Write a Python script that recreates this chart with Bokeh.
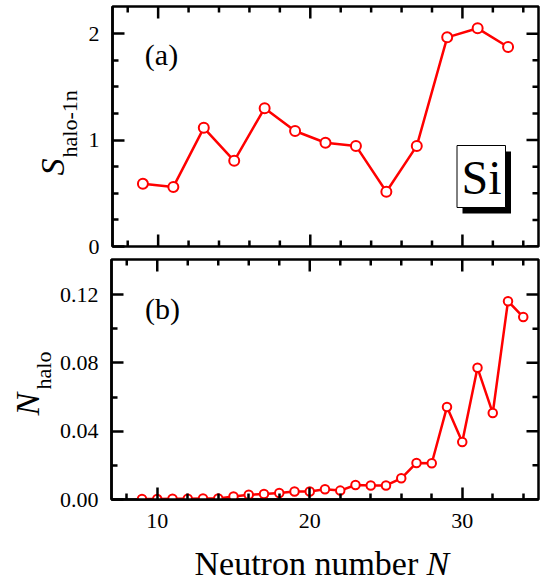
import numpy as np
from bokeh.plotting import figure
from bokeh.models import (FixedTicker, LinearAxis, Label, BoxAnnotation, Range1d,
                          NumeralTickFormatter, ColumnDataSource)
from bokeh.layouts import column, row
from bokeh.embed import file_html
from bokeh.resources import INLINE

# ---- data ----
n_top = [9, 11, 13, 15, 17, 19, 21, 23, 25, 27, 29, 31, 33]
s_halo_1n = [0.59, 0.56, 1.115, 0.805, 1.30, 1.085, 0.975, 0.945, 0.515, 0.945, 1.965, 2.05, 1.875]

n_bot = list(range(9, 35))
n_halo = [0.0003, 0.0003, 0.0005, 0.0004, 0.0006, 0.0006, 0.0018, 0.0028, 0.0032, 0.0038,
          0.0047, 0.0047, 0.0060, 0.0052, 0.0085, 0.0082, 0.0082, 0.0124, 0.0214, 0.0212,
          0.0542, 0.0337, 0.0771, 0.0506, 0.1161, 0.1068]

x_major = [10, 20, 30]
x_minor = [8, 12, 14, 16, 18, 22, 24, 26, 28, 32, 34]
top_y_major = [0, 1, 2]
top_y_minor = [0.25, 0.5, 0.75, 1.25, 1.5, 1.75]
bot_y_major = [0, 0.04, 0.08, 0.12]
bot_y_minor = [0.02, 0.06, 0.10]

X_RANGE = (7, 35)
TOP_Y_RANGE = (0, 2.255)
BOT_Y_RANGE = (0, 0.1405)

FONT = "Liberation Serif"
RED = "#ff0000"
TICK_W = 2.5
MAJ = 12
MIN = 6


def style_axis(ax, standoff):
    ax.axis_line_width = 2.5
    ax.axis_line_color = "black"
    ax.major_tick_in = MAJ
    ax.major_tick_out = 0
    ax.minor_tick_in = MIN
    ax.minor_tick_out = 0
    ax.major_tick_line_width = TICK_W
    ax.minor_tick_line_width = TICK_W
    ax.major_tick_line_color = "black"
    ax.minor_tick_line_color = "black"
    ax.major_label_text_font = FONT
    ax.major_label_text_color = "black"
    ax.major_label_text_font_size = "22px"
    ax.major_label_standoff = standoff


def mirror_ticks(p, yr, ymaj, ymin, bottom_too):
    # top edge (and bottom edge when there is no bottom axis)
    for ticks, ln in ((x_major, MAJ), (x_minor, MIN)):
        p.ray(x=ticks, y=[yr[1]] * len(ticks), length=ln, length_units="screen",
              angle=-np.pi / 2, line_color="black", line_width=TICK_W)
        if bottom_too:
            p.ray(x=ticks, y=[yr[0]] * len(ticks), length=ln, length_units="screen",
                  angle=np.pi / 2, line_color="black", line_width=TICK_W)
    # right edge
    for ticks, ln in ((ymaj, MAJ), (ymin, MIN)):
        p.ray(x=[X_RANGE[1]] * len(ticks), y=ticks, length=ln, length_units="screen",
              angle=np.pi, line_color="black", line_width=TICK_W)


def make_fig(width, height, yr, ymaj, ymin, bleft, btop, bbot, show_x, yfmt=None):
    p = figure(width=width, height=height, x_range=Range1d(*X_RANGE), y_range=Range1d(*yr),
               output_backend="svg", toolbar_location=None,
               x_axis_location=None, y_axis_location=None,
               min_border_left=bleft, min_border_right=11,
               min_border_top=btop, min_border_bottom=bbot)
    p.grid.visible = False
    p.outline_line_color = "black"
    p.outline_line_width = 2.5
    yax = LinearAxis(ticker=FixedTicker(ticks=ymaj, minor_ticks=ymin))
    if yfmt is not None:
        yax.formatter = yfmt
    style_axis(yax, 13)
    p.add_layout(yax, "left")
    if show_x:
        xax = LinearAxis(ticker=FixedTicker(ticks=x_major, minor_ticks=x_minor))
        style_axis(xax, 14)
        p.add_layout(xax, "below")
    mirror_ticks(p, yr, ymaj, ymin, not show_x)
    return p


def text_fig(width, height):
    f = figure(width=width, height=height, x_range=Range1d(0, 1), y_range=Range1d(0, 1),
               output_backend="svg", toolbar_location=None,
               x_axis_location=None, y_axis_location=None,
               min_border=0, min_border_left=0, min_border_right=0,
               min_border_top=0, min_border_bottom=0)
    f.grid.visible = False
    f.outline_line_color = None
    return f


def lab(**kw):
    base = dict(x_units="canvas", y_units="canvas", text_font=FONT, text_color="black",
                text_baseline="middle")
    base.update(kw)
    return Label(**base)


# ---- top row ----
LW1 = 85
lab1 = text_fig(LW1, 258)
lab1.add_layout(lab(x=51.5, y=175, text="S", angle=np.pi / 2, text_font_style="italic",
                    text_font_size="34px", text_align="left"))
lab1.add_layout(lab(x=68.6, y=157, text="halo-1n", angle=np.pi / 2,
                    text_font_size="22px", text_align="left"))

p1 = make_fig(549 - LW1, 258, TOP_Y_RANGE, top_y_major, top_y_minor, 111 - LW1, 6, 12, False)
src1 = ColumnDataSource(dict(n=n_top, s=s_halo_1n))
p1.line("n", "s", source=src1, line_color=RED, line_width=2.5)
p1.scatter("n", "s", source=src1, size=10, marker="circle", line_color=RED,
           line_width=2, fill_color="white")
p1.add_layout(lab(x=161 - LW1, y=54, text="(a)", text_font_size="30px", text_align="center"))

# Si box with shadow
p1.add_layout(BoxAnnotation(left=462 - LW1, right=510.5 - LW1, top=151, bottom=213,
                            left_units="canvas", right_units="canvas",
                            top_units="canvas", bottom_units="canvas",
                            fill_color="black", fill_alpha=1, line_color="black", line_width=0))
p1.add_layout(BoxAnnotation(left=456.5 - LW1, right=505 - LW1, top=145, bottom=207,
                            left_units="canvas", right_units="canvas",
                            top_units="canvas", bottom_units="canvas",
                            fill_color="white", fill_alpha=1, line_color="black", line_width=1,
                            line_alpha=1))
p1.add_layout(lab(x=481 - LW1, y=177, text="Si", text_font_size="48px", text_align="center"))

# ---- bottom row ----
LW2 = 55
lab2 = text_fig(LW2, 282)
lab2.add_layout(lab(x=26.5, y=157, text="N", angle=np.pi / 2, text_font_style="italic",
                    text_font_size="34px", text_align="left"))
lab2.add_layout(lab(x=42.6, y=131, text="halo", angle=np.pi / 2,
                    text_font_size="22px", text_align="left"))

p2 = make_fig(549 - LW2, 282, BOT_Y_RANGE, bot_y_major, bot_y_minor, 111 - LW2, 1, 41, True,
              yfmt=NumeralTickFormatter(format="0.00"))
src2 = ColumnDataSource(dict(n=n_bot, v=n_halo))
p2.line("n", "v", source=src2, line_color=RED, line_width=2.5)
p2.scatter("n", "v", source=src2, size=8.5, marker="circle", line_color=RED,
           line_width=2, fill_color="white")
p2.add_layout(lab(x=162 - LW2, y=49.5, text="(b)", text_font_size="30px", text_align="center"))

# ---- x title ----
tf = text_fig(549, 40)
tf.add_layout(lab(x=194, y=22.5, text="Neutron number", text_font_size="34px", text_align="left"))
tf.add_layout(lab(x=426, y=22.5, text="N", text_font_style="italic", text_font_size="34px",
                  text_align="left"))

layout = column(row(lab1, p1, spacing=0), row(lab2, p2, spacing=0), tf, spacing=0)
open("out.html", "w").write(file_html(layout, INLINE))
